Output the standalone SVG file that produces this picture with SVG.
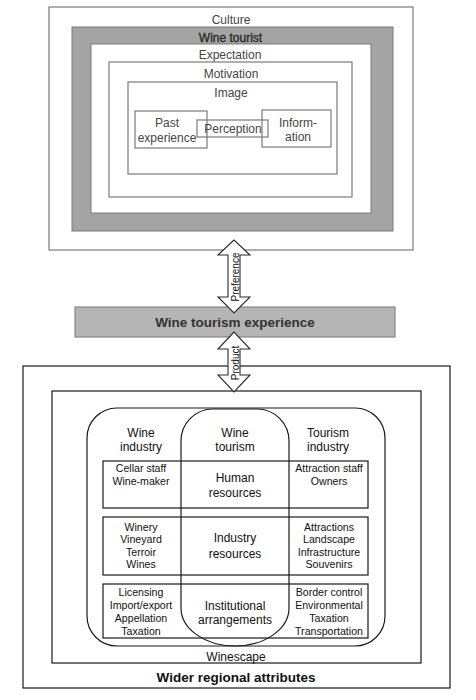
<svg xmlns="http://www.w3.org/2000/svg" width="476" height="700" viewBox="0 0 476 700">
<style>
.t{font-family:"Liberation Sans",Arial,sans-serif;font-size:12px;text-anchor:middle;fill:#111}
.g{fill:#454545}
.s{font-size:10.6px}
.b{font-weight:bold}
.top{fill:none;stroke:#7a7a7a;stroke-width:1.2}
.ln{fill:none;stroke:#1a1a1a;stroke-width:1.2}
.arr{fill:#fff;stroke:#2a2a2a;stroke-width:1.1}
</style>
<rect width="476" height="700" fill="#fff"/>
<g id="culture">
<rect class="top" x="49" y="7" width="364" height="243" fill="#fff"/>
<text class="t g" x="231" y="23.5">Culture</text>
</g>
<g id="wine-tourist">
<rect x="72" y="27" width="321" height="204" fill="#a4a4a4" stroke="#7a7a7a" stroke-width="1"/>
<rect x="91" y="44" width="280" height="169" fill="#fff" stroke="#7a7a7a" stroke-width="1"/>
<text class="t" x="230.5" y="41.5" style="fill:#2a2a2a;stroke:#2a2a2a;stroke-width:0.35">Wine tourist</text>
</g>
<g id="expectation">
<text class="t g" x="230" y="58.5">Expectation</text>
</g>
<g id="motivation">
<rect class="top" x="109" y="62" width="243" height="135"/>
<text class="t g" x="231" y="77.5">Motivation</text>
</g>
<g id="image">
<rect class="top" x="128" y="82" width="209" height="92"/>
<text class="t g" x="231" y="96.5">Image</text>
</g>
<g id="past-experience">
<rect class="top" x="135" y="111" width="72" height="37"/>
<text class="t g" x="167" y="126.5">Past</text>
<text class="t g" x="167" y="141.5">experience</text>
</g>
<g id="information">
<rect class="top" x="262" y="110" width="69" height="37"/>
<text class="t g" x="298" y="126.5">Inform-</text>
<text class="t g" x="298" y="140.5">ation</text>
</g>
<g id="perception">
<rect class="top" x="197" y="120" width="71" height="17" fill="#fff"/>
<text class="t g" x="233" y="132.5">Perception</text>
</g>
<g id="wine-tourism-experience">
<rect x="75" y="307" width="320" height="30" fill="#b5b5b5" stroke="#888" stroke-width="1.2"/>
<text class="t b" x="235" y="327" style="font-size:13.5px;fill:#333">Wine tourism experience</text>
</g>
<g id="wider-regional-attributes">
<rect class="ln" x="23" y="366" width="427" height="322"/>
<text class="t b" x="236" y="682" style="font-size:13.5px">Wider regional attributes</text>
</g>
<g id="winescape">
<rect class="ln" x="52" y="391" width="369" height="272"/>
<text class="t" x="236" y="660.5">Winescape</text>
</g>
<g id="rows">
<rect class="ln" x="103" y="461" width="265" height="47"/>
<rect class="ln" x="103" y="517" width="265" height="58"/>
<rect class="ln" x="103" y="584" width="265" height="54"/>
</g>
<g id="wine-industry">
<rect class="ln" x="87" y="408" width="298" height="238" rx="30" ry="30"/>
<text class="t" x="141" y="436.5">Wine</text>
<text class="t" x="141" y="450.5">industry</text>
<text class="t s" x="141" y="472">Cellar staff</text>
<text class="t s" x="141" y="484.5">Wine-maker</text>
<text class="t s" x="141" y="530.5">Winery</text>
<text class="t s" x="141" y="543">Vineyard</text>
<text class="t s" x="141" y="555.5">Terroir</text>
<text class="t s" x="141" y="568">Wines</text>
<text class="t s" x="141" y="596">Licensing</text>
<text class="t s" x="141" y="609">Import/export</text>
<text class="t s" x="141" y="622">Appellation</text>
<text class="t s" x="141" y="635">Taxation</text>
</g>
<g id="wine-tourism">
<path class="ln" d="M181,441 A32,32 0 0 1 213,409 L257,409 A32,32 0 0 1 289,441 L289,608 A54,38 0 0 1 181,608 Z"/>
<text class="t" x="235" y="436.5">Wine</text>
<text class="t" x="235" y="450.5">tourism</text>
<text class="t" x="235" y="481.5">Human</text>
<text class="t" x="235" y="496.5">resources</text>
<text class="t" x="235" y="541.5">Industry</text>
<text class="t" x="235" y="557.5">resources</text>
<text class="t" x="235" y="609.5">Institutional</text>
<text class="t" x="235" y="623.5">arrangements</text>
</g>
<g id="tourism-industry">
<text class="t" x="328" y="436.5">Tourism</text>
<text class="t" x="328" y="450.5">industry</text>
<text class="t s" x="329" y="472">Attraction staff</text>
<text class="t s" x="329" y="485">Owners</text>
<text class="t s" x="329" y="530.5">Attractions</text>
<text class="t s" x="329" y="543">Landscape</text>
<text class="t s" x="329" y="555.5">Infrastructure</text>
<text class="t s" x="329" y="568">Souvenirs</text>
<text class="t s" x="329" y="596">Border control</text>
<text class="t s" x="329" y="609">Environmental</text>
<text class="t s" x="329" y="622">Taxation</text>
<text class="t s" x="329" y="635">Transportation</text>
</g>
<g id="connectors">
<g id="preference">
<path class="arr" d="M234,240 L218,255 L228,255 L228,297 L218,297 L234,313 L250,297 L240,297 L240,255 L250,255 Z"/>
<text class="t" transform="translate(238.5,277) rotate(-90)" style="font-size:10px">Preference</text>
</g>
<g id="product">
<path class="arr" d="M234,332 L218,349 L228,349 L228,375 L218,375 L234,392 L250,375 L240,375 L240,349 L250,349 Z"/>
<text class="t" transform="translate(238.5,363) rotate(-90)" style="font-size:10px">Product</text>
</g>
</g>
</svg>
